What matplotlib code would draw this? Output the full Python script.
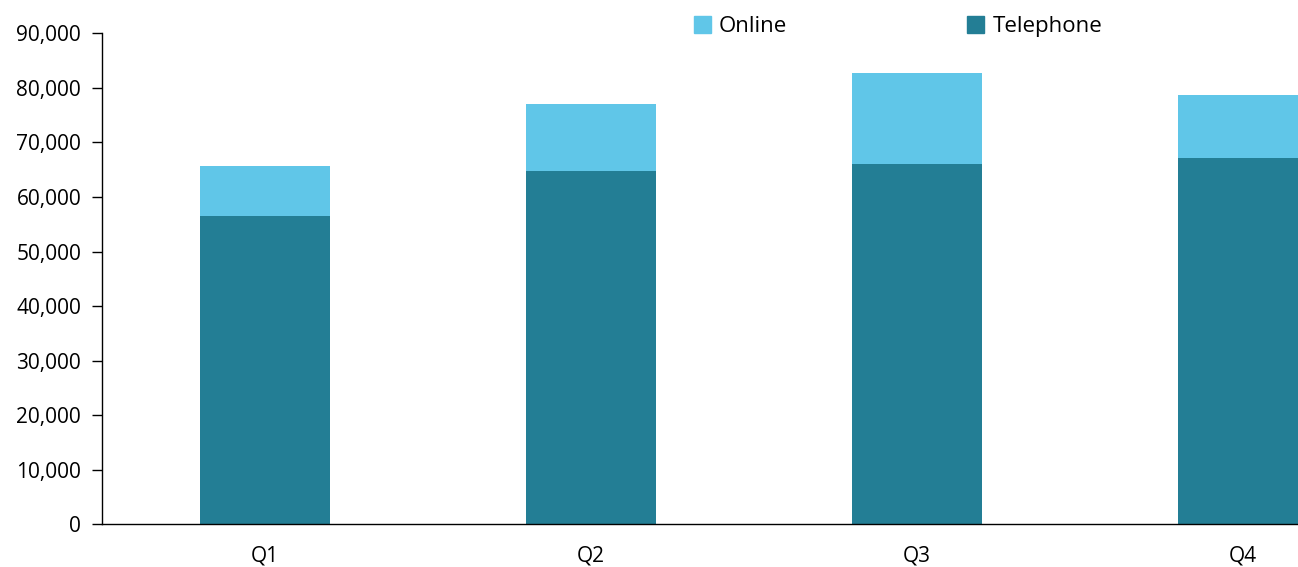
import matplotlib
matplotlib.use("Agg")
import matplotlib.pyplot as plt
from matplotlib.patches import Patch
from matplotlib.ticker import FuncFormatter

plt.rcParams["font.family"] = ["Open Sans", "DejaVu Sans"]

quarters = ["Q1", "Q2", "Q3", "Q4"]
telephone = [56500, 64800, 66100, 67100]
online = [9200, 12200, 16600, 11500]

tel_color = "#237E95"
onl_color = "#60C6E8"

fig = plt.figure(figsize=(12.98, 5.67), dpi=100)
ax = fig.add_axes([102 / 1298, 42.7 / 567, 1304 / 1298, 491 / 567])

x = range(len(quarters))
ax.bar(x, telephone, width=0.4, color=tel_color)
ax.bar(x, online, width=0.4, bottom=telephone, color=onl_color)

ax.set_xlim(-0.5, 3.5)
ax.set_ylim(0, 90000)
ax.set_yticks(range(0, 90001, 10000))
ax.yaxis.set_major_formatter(FuncFormatter(lambda v, p: f"{int(v):,}"))
ax.set_xticks(list(x))
ax.set_xticklabels(quarters)

for s in ["top", "right"]:
    ax.spines[s].set_visible(False)
for s in ["left", "bottom"]:
    ax.spines[s].set_linewidth(1.0)
    ax.spines[s].set_color("black")

ax.tick_params(axis="y", length=7, width=1.0, pad=8, labelsize=15)
ax.tick_params(axis="x", length=0, pad=15, labelsize=15)

handles = [Patch(color=onl_color, label="Online"),
           Patch(color=tel_color, label="Telephone")]
fig.legend(handles=handles, loc="center left", bbox_to_anchor=(694 / 1298, 1 - 26.5 / 567),
           ncol=2, frameon=False, fontsize=16, handlelength=0.77, handleheight=0.77,
           handletextpad=0.36, columnspacing=8.1, borderpad=0, borderaxespad=0)

fig.savefig("out.png", dpi=100)
